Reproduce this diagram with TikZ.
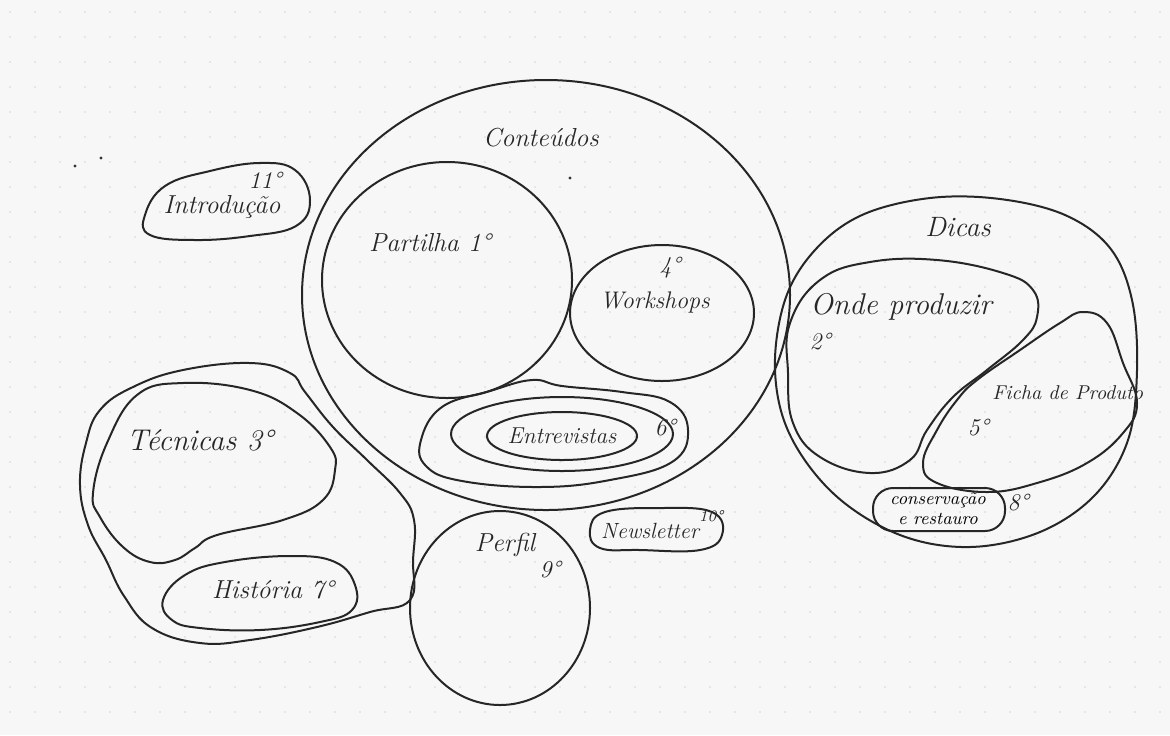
\documentclass[tikz,border=0pt]{standalone}
\usepackage{tikz}
\usetikzlibrary{positioning}

\begin{document}
\begin{tikzpicture}[x=0.5pt, y=-0.5pt,
  pen/.style={draw=black!85, line width=1pt},
  blob/.style={pen, smooth cycle, tension=0.7},
  lbl/.style={font=\fontsize{13}{15}\selectfont\itshape, text=black!85, inner sep=0pt},
  ord/.style={font=\fontsize{12}{14}\selectfont\itshape, text=black!85, inner sep=0pt}]
% paper with dot grid
\fill[gray!6] (0,0) rectangle (1170,735);
\foreach \gx in {10,35,...,1170}
  \foreach \gy in {12,37,...,735}
    \fill[gray!32] (\gx,\gy) circle [radius=0.8];
\useasboundingbox (0,0) rectangle (1170,735);

% Conteudos
\coordinate (cont) at (546,295);
\draw[pen] (cont) ellipse [x radius=244, y radius=215];
\node[lbl] (conttxt) at (541,138) {Conteúdos};
\coordinate (part) at (447,280);
\draw[pen] (part) ellipse [x radius=125, y radius=118];
\node[lbl] (parttxt) at (430,243) {Partilha 1°};
\coordinate (work) at (662,313);
\draw[pen] (work) ellipse [x radius=92, y radius=68];
\node[ord] (workord) at (670,268) {4°};
\node[lbl, font=\fontsize{12}{14}\selectfont\itshape] (worktxt) at (655,302) {Workshops};
\draw[blob] plot coordinates {(421,440) (442,407) (490,391) (532,380) (562,386) (622,392) (670,402) (688,430) (672,462) (610,480) (540,487) (462,481) (426,466)};
\draw[pen] (562,434) ellipse [x radius=111, y radius=37];
\coordinate (entr) at (562,436);
\draw[pen] (entr) ellipse [x radius=75, y radius=24];
\node[lbl, font=\fontsize{11.5}{13}\selectfont\itshape] (entrtxt) at (entr) {Entrevistas};
\node[ord] (entrord) at (665,428) {6°};

% Tecnicas
\draw[blob] plot coordinates {(100,410) (133,387) (183,370) (250,363) (290,373) (305,392) (333,427) (367,460) (400,493) (414,520) (413,560) (410,600) (370,612) (317,627) (250,640) (200,643) (152,628) (124,596) (106,560) (88,525) (80,485) (86,443)};
\draw[blob] plot coordinates {(93,493) (107,443) (137,395) (183,383) (250,390) (297,413) (330,447) (335,470) (323,500) (283,520) (217,535) (195,548) (175,560) (150,562) (123,547) (100,517)};
\node[lbl, font=\fontsize{15}{17}\selectfont\itshape] (tectxt) at (200,440) {Técnicas 3°};
\draw[blob] plot coordinates {(163,600) (185,575) (225,562) (290,556) (335,562) (355,585) (352,610) (320,622) (260,630) (200,628) (172,620)};
\node[lbl] (histtxt) at (273,590) {História 7°};

% Perfil, Newsletter, Introducao
\coordinate (perf) at (500,608);
\draw[pen] (perf) ellipse [x radius=90, y radius=97];
\node[lbl] (perftxt) at (505,545) {Perfil};
\node[ord] (perford) at (550,570) {9°};
\draw[blob] plot coordinates {(590,530) (605,512) (660,508) (712,512) (722,535) (700,550) (640,550) (600,548)};
\node[lbl, font=\fontsize{11}{13}\selectfont\itshape] (newstxt) at (650,531) {Newsletter};
\node[ord, font=\fontsize{8}{9}\selectfont\itshape] (newsord) at (711,516) {10°};
\draw[blob] plot coordinates {(145,215) (165,186) (210,171) (260,163) (295,170) (310,200) (296,226) (250,236) (195,240) (150,235)};
\node[lbl] (introtxt) at (222,207) {Introdução};
\node[ord] (introord) at (265,180) {11°};

% Dicas
\draw[pen, smooth cycle, tension=0.6] plot coordinates {(775,370) (785,300) (815,250) (862,215) (930,198) (1000,199) (1065,215) (1110,248) (1132,300) (1137,370) (1128,440) (1095,495) (1040,532) (970,547) (900,535) (835,495) (790,435)};
\node[lbl, font=\fontsize{14}{16}\selectfont\itshape] (dicatxt) at (958,227) {Dicas};
\draw[blob] plot coordinates {(790,323) (820,280) (870,262) (937,260) (1003,273) (1033,290) (1037,317) (1023,340) (987,370) (953,397) (927,430) (910,460) (870,473) (820,457) (793,423) (788,373)};
\node[lbl, font=\fontsize{15}{17}\selectfont\itshape] (ondetxt) at (901,307) {Onde produzir};
\node[ord] (ondeord) at (820,342) {2°};
\draw[blob] plot coordinates {(1083,312) (1107,323) (1123,363) (1137,403) (1123,433) (1087,463) (1037,483) (987,492) (937,483) (923,463) (937,430) (957,400) (977,380) (1020,350) (1060,323)};
\node[lbl, font=\fontsize{10}{12}\selectfont\itshape, anchor=west] (fichtxt) at (992,393) {Ficha de Produto};
\node[ord] (fichord) at (978,428) {5°};
\draw[pen, rounded corners=10] (873,488) rectangle (1005,531);
\node[align=center, font=\fontsize{9}{10}\selectfont\itshape, inner sep=0pt] (constxt) at (938,509) {conservação\\e restauro};
\node[ord] (consord) at (1018,503) {8°};

% stray pen marks
\fill[black!80] (75,166) circle [radius=1.6];
\fill[black!80] (101,158) circle [radius=1.6];
\fill[black!80] (570,178) circle [radius=1.6];
\end{tikzpicture}
\end{document}
